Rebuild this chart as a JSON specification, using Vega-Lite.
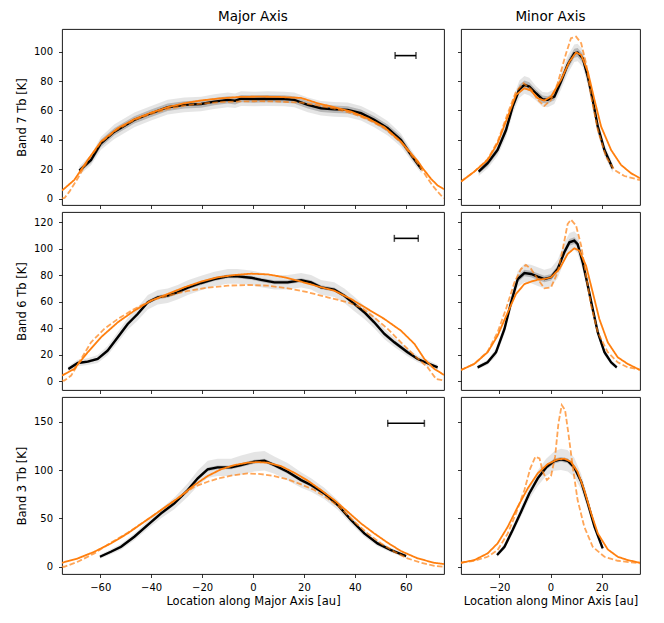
{
  "$schema": "https://vega.github.io/schema/vega-lite/v6.json",
  "background": "white",
  "padding": {"left": 15, "top": 9, "right": 5, "bottom": 5},
  "config": {
    "font": "DejaVu Sans",
    "view": {"stroke": "black", "strokeWidth": 0.9},
    "axis": {"grid": false, "domain": false, "tickColor": "black", "tickSize": 3.5, "tickWidth": 0.8, "labelColor": "black", "labelFontSize": 10, "labelOverlap": false, "titleFontSize": 11.5, "titleFontWeight": "normal", "titleColor": "black"},
    "axisX": {"labelPadding": 4.5, "titlePadding": 3},
    "axisY": {"labelPadding": 6, "titlePadding": 6},
    "title": {"fontSize": 13.5, "fontWeight": "normal", "color": "black", "frame": "group", "offset": 6}
  },
  "datasets": {
    "obs": [
      {"p":"a","x":-68.2,"t":19.1,"lo":16.1,"hi":22.1,"lo2":17.6,"hi2":20.6},
      {"p":"a","x":-63.6,"t":26.3,"lo":22.8,"hi":29.8,"lo2":24.3,"hi2":28.3},
      {"p":"a","x":-59.7,"t":37.7,"lo":33.2,"hi":42.2,"lo2":35.2,"hi2":40.2},
      {"p":"a","x":-54.4,"t":45.6,"lo":40.6,"hi":50.6,"lo2":43.1,"hi2":48.1},
      {"p":"a","x":-46.6,"t":53.6,"lo":48.6,"hi":58.6,"lo2":51.1,"hi2":56.1},
      {"p":"a","x":-40,"t":58.1,"lo":53.1,"hi":63.1,"lo2":55.6,"hi2":60.6},
      {"p":"a","x":-33.5,"t":62.2,"lo":57.2,"hi":67.2,"lo2":59.7,"hi2":64.7},
      {"p":"a","x":-27,"t":63.8,"lo":58.8,"hi":68.8,"lo2":61.3,"hi2":66.3},
      {"p":"a","x":-20.4,"t":64.4,"lo":59.4,"hi":69.4,"lo2":61.9,"hi2":66.9},
      {"p":"a","x":-15.2,"t":66,"lo":61,"hi":71,"lo2":63.5,"hi2":68.5},
      {"p":"a","x":-9.9,"t":67.2,"lo":62.2,"hi":72.2,"lo2":64.7,"hi2":69.7},
      {"p":"a","x":-7,"t":66.6,"lo":61.6,"hi":71.6,"lo2":64.1,"hi2":69.1},
      {"p":"a","x":-4.7,"t":68,"lo":63,"hi":73,"lo2":65.5,"hi2":70.5},
      {"p":"a","x":0.5,"t":67.8,"lo":62.8,"hi":72.8,"lo2":65.3,"hi2":70.3},
      {"p":"a","x":5.8,"t":68,"lo":63,"hi":73,"lo2":65.5,"hi2":70.5},
      {"p":"a","x":12.3,"t":67.8,"lo":62.8,"hi":72.8,"lo2":65.3,"hi2":70.3},
      {"p":"a","x":16.2,"t":67.2,"lo":62.2,"hi":72.2,"lo2":64.7,"hi2":69.7},
      {"p":"a","x":21.5,"t":63.8,"lo":58.8,"hi":68.8,"lo2":61.3,"hi2":66.3},
      {"p":"a","x":26.7,"t":61.5,"lo":56.5,"hi":66.5,"lo2":59,"hi2":64},
      {"p":"a","x":31.9,"t":60.8,"lo":55.8,"hi":65.8,"lo2":58.3,"hi2":63.3},
      {"p":"a","x":37.2,"t":60.4,"lo":55.4,"hi":65.4,"lo2":57.9,"hi2":62.9},
      {"p":"a","x":42.4,"t":58.1,"lo":53.1,"hi":63.1,"lo2":55.6,"hi2":60.6},
      {"p":"a","x":47.6,"t":53.6,"lo":48.6,"hi":58.6,"lo2":51.1,"hi2":56.1},
      {"p":"a","x":52.9,"t":47.9,"lo":42.9,"hi":52.9,"lo2":45.4,"hi2":50.4},
      {"p":"a","x":58.1,"t":39.9,"lo":35.4,"hi":44.4,"lo2":37.4,"hi2":42.4},
      {"p":"a","x":62.1,"t":29.7,"lo":26.2,"hi":33.2,"lo2":27.7,"hi2":31.7},
      {"p":"a","x":66.2,"t":20,"lo":17,"hi":23,"lo2":18.5,"hi2":21.5},

      {"p":"b","x":-28.1,"t":18.4,"lo":15.4,"hi":21.4,"lo2":16.9,"hi2":19.9},
      {"p":"b","x":-24.6,"t":24.1,"lo":20.6,"hi":27.6,"lo2":22.1,"hi2":26.1},
      {"p":"b","x":-20.7,"t":33.1,"lo":29.1,"hi":37.1,"lo2":31.1,"hi2":35.1},
      {"p":"b","x":-17.4,"t":46.7,"lo":41.7,"hi":51.7,"lo2":44.2,"hi2":49.2},
      {"p":"b","x":-14.8,"t":62.6,"lo":57.6,"hi":67.6,"lo2":60.1,"hi2":65.1},
      {"p":"b","x":-12.2,"t":74.4,"lo":68.4,"hi":80.4,"lo2":71.4,"hi2":77.4},
      {"p":"b","x":-10.2,"t":77.4,"lo":71.4,"hi":83.4,"lo2":74.4,"hi2":80.4},
      {"p":"b","x":-8.3,"t":76.2,"lo":70.2,"hi":82.2,"lo2":73.2,"hi2":79.2},
      {"p":"b","x":-5.7,"t":71.7,"lo":66.7,"hi":76.7,"lo2":69.2,"hi2":74.2},
      {"p":"b","x":-3.1,"t":67.6,"lo":62.6,"hi":72.6,"lo2":65.1,"hi2":70.1},
      {"p":"b","x":-1.1,"t":67.2,"lo":62.2,"hi":72.2,"lo2":64.7,"hi2":69.7},
      {"p":"b","x":1.5,"t":69.4,"lo":64.4,"hi":74.4,"lo2":66.9,"hi2":71.9},
      {"p":"b","x":4.1,"t":79.6,"lo":74.1,"hi":85.1,"lo2":76.6,"hi2":82.6},
      {"p":"b","x":6.7,"t":91,"lo":85,"hi":97,"lo2":88,"hi2":94},
      {"p":"b","x":9.3,"t":98.9,"lo":92.9,"hi":104.9,"lo2":95.9,"hi2":101.9},
      {"p":"b","x":10.6,"t":99.4,"lo":93.4,"hi":105.4,"lo2":96.4,"hi2":102.4},
      {"p":"b","x":12.6,"t":95.5,"lo":89.5,"hi":101.5,"lo2":92.5,"hi2":98.5},
      {"p":"b","x":14.6,"t":83,"lo":77,"hi":89,"lo2":80,"hi2":86},
      {"p":"b","x":16.5,"t":67.2,"lo":62.2,"hi":72.2,"lo2":64.7,"hi2":69.7},
      {"p":"b","x":18.5,"t":49,"lo":44,"hi":54,"lo2":46.5,"hi2":51.5},
      {"p":"b","x":21.1,"t":33.1,"lo":29.1,"hi":37.1,"lo2":31.1,"hi2":35.1},
      {"p":"b","x":24.3,"t":20.7,"lo":17.7,"hi":23.7,"lo2":19.2,"hi2":22.2},

      {"p":"c","x":-72.5,"t":9.3,"lo":7.3,"hi":11.3,"lo2":8.3,"hi2":10.3},
      {"p":"c","x":-68.8,"t":13.8,"lo":11.3,"hi":16.3,"lo2":12.8,"hi2":14.8},
      {"p":"c","x":-64.9,"t":14.8,"lo":12.3,"hi":17.3,"lo2":13.8,"hi2":15.8},
      {"p":"c","x":-61,"t":16.8,"lo":13.8,"hi":19.8,"lo2":15.8,"hi2":17.8},
      {"p":"c","x":-57.1,"t":23.1,"lo":19.6,"hi":26.6,"lo2":21.6,"hi2":24.6},
      {"p":"c","x":-53.1,"t":33.2,"lo":29.2,"hi":37.2,"lo2":31.7,"hi2":34.7},
      {"p":"c","x":-49.2,"t":43.3,"lo":38.8,"hi":47.8,"lo2":41.8,"hi2":44.8},
      {"p":"c","x":-45.3,"t":50.8,"lo":45.8,"hi":55.8,"lo2":49.3,"hi2":52.3},
      {"p":"c","x":-41.3,"t":59.6,"lo":54.1,"hi":65.1,"lo2":58.1,"hi2":61.1},
      {"p":"c","x":-37.4,"t":63.4,"lo":57.9,"hi":68.9,"lo2":61.9,"hi2":64.9},
      {"p":"c","x":-33.5,"t":64.6,"lo":59.1,"hi":70.1,"lo2":63.1,"hi2":66.1},
      {"p":"c","x":-29.6,"t":67.2,"lo":61.7,"hi":72.7,"lo2":65.7,"hi2":68.7},
      {"p":"c","x":-25.6,"t":70.7,"lo":65.2,"hi":76.2,"lo2":69.2,"hi2":72.2},
      {"p":"c","x":-20.4,"t":74.2,"lo":68.7,"hi":79.7,"lo2":72.7,"hi2":75.7},
      {"p":"c","x":-15.2,"t":77.2,"lo":71.7,"hi":82.7,"lo2":75.7,"hi2":78.7},
      {"p":"c","x":-9.9,"t":79.2,"lo":73.7,"hi":84.7,"lo2":77.7,"hi2":80.7},
      {"p":"c","x":-6,"t":79.2,"lo":73.7,"hi":84.7,"lo2":77.7,"hi2":80.7},
      {"p":"c","x":-0.8,"t":78.2,"lo":72.7,"hi":83.7,"lo2":76.7,"hi2":79.7},
      {"p":"c","x":3.2,"t":76.5,"lo":71,"hi":82,"lo2":75,"hi2":78},
      {"p":"c","x":8.4,"t":74.7,"lo":69.2,"hi":80.2,"lo2":73.2,"hi2":76.2},
      {"p":"c","x":13.6,"t":74.7,"lo":69.2,"hi":80.2,"lo2":73.2,"hi2":76.2},
      {"p":"c","x":18.9,"t":76.2,"lo":70.7,"hi":81.7,"lo2":74.7,"hi2":77.7},
      {"p":"c","x":22.8,"t":74.7,"lo":69.2,"hi":80.2,"lo2":73.2,"hi2":76.2},
      {"p":"c","x":26.7,"t":70.9,"lo":65.4,"hi":76.4,"lo2":69.4,"hi2":72.4},
      {"p":"c","x":31.9,"t":69.2,"lo":63.7,"hi":74.7,"lo2":67.7,"hi2":70.7},
      {"p":"c","x":35.9,"t":64.6,"lo":59.1,"hi":70.1,"lo2":63.1,"hi2":66.1},
      {"p":"c","x":39.8,"t":58.4,"lo":52.9,"hi":63.9,"lo2":56.9,"hi2":59.9},
      {"p":"c","x":43.7,"t":52.1,"lo":47.1,"hi":57.1,"lo2":50.6,"hi2":53.6},
      {"p":"c","x":47.6,"t":44.5,"lo":40,"hi":49,"lo2":43,"hi2":46},
      {"p":"c","x":51.6,"t":35.7,"lo":31.7,"hi":39.7,"lo2":34.2,"hi2":37.2},
      {"p":"c","x":55.5,"t":29.4,"lo":25.9,"hi":32.9,"lo2":27.9,"hi2":30.9},
      {"p":"c","x":60.7,"t":21.9,"lo":18.9,"hi":24.9,"lo2":20.4,"hi2":23.4},
      {"p":"c","x":64.7,"t":16.8,"lo":14.3,"hi":19.3,"lo2":15.8,"hi2":17.8},
      {"p":"c","x":68.6,"t":13.6,"lo":11.1,"hi":16.1,"lo2":12.6,"hi2":14.6},
      {"p":"c","x":72.5,"t":10.5,"lo":8.5,"hi":12.5,"lo2":9.5,"hi2":11.5},

      {"p":"d","x":-28.5,"t":10.5,"lo":9,"hi":12,"lo2":9.5,"hi2":11.5},
      {"p":"d","x":-24.6,"t":14.3,"lo":12.3,"hi":16.3,"lo2":13.3,"hi2":15.3},
      {"p":"d","x":-21.3,"t":21.9,"lo":18.9,"hi":24.9,"lo2":20.4,"hi2":23.4},
      {"p":"d","x":-18,"t":39.5,"lo":35.5,"hi":43.5,"lo2":37.5,"hi2":41.5},
      {"p":"d","x":-15.4,"t":59.6,"lo":54.6,"hi":64.6,"lo2":57.6,"hi2":61.6},
      {"p":"d","x":-12.8,"t":77.2,"lo":71.2,"hi":83.2,"lo2":74.7,"hi2":79.7},
      {"p":"d","x":-10.2,"t":81.7,"lo":74.7,"hi":88.7,"lo2":79.2,"hi2":84.2},
      {"p":"d","x":-7.6,"t":81,"lo":74,"hi":88,"lo2":78.5,"hi2":83.5},
      {"p":"d","x":-5,"t":79,"lo":72,"hi":86,"lo2":76.5,"hi2":81.5},
      {"p":"d","x":-2.4,"t":77.2,"lo":70.2,"hi":84.2,"lo2":74.7,"hi2":79.7},
      {"p":"d","x":0.2,"t":78.5,"lo":71.5,"hi":85.5,"lo2":76,"hi2":81},
      {"p":"d","x":2.8,"t":84.8,"lo":77.8,"hi":91.8,"lo2":82.3,"hi2":87.3},
      {"p":"d","x":5.4,"t":97.4,"lo":90.4,"hi":104.4,"lo2":94.9,"hi2":99.9},
      {"p":"d","x":7.4,"t":104.9,"lo":97.9,"hi":111.9,"lo2":102.4,"hi2":107.4},
      {"p":"d","x":9.3,"t":106.2,"lo":99.2,"hi":113.2,"lo2":103.7,"hi2":108.7},
      {"p":"d","x":10.6,"t":103.6,"lo":96.6,"hi":110.6,"lo2":101.1,"hi2":106.1},
      {"p":"d","x":12.6,"t":89.8,"lo":83.8,"hi":95.8,"lo2":87.3,"hi2":92.3},
      {"p":"d","x":14.6,"t":72.2,"lo":67.2,"hi":77.2,"lo2":70.2,"hi2":74.2},
      {"p":"d","x":16.5,"t":54.6,"lo":50.6,"hi":58.6,"lo2":52.6,"hi2":56.6},
      {"p":"d","x":18.5,"t":36.9,"lo":33.9,"hi":39.9,"lo2":35.4,"hi2":38.4},
      {"p":"d","x":21.1,"t":21.9,"lo":19.4,"hi":24.4,"lo2":20.4,"hi2":23.4},
      {"p":"d","x":23.7,"t":14.3,"lo":12.3,"hi":16.3,"lo2":13.3,"hi2":15.3},
      {"p":"d","x":25.9,"t":10.5,"lo":9,"hi":12,"lo2":9.5,"hi2":11.5},

      {"p":"e","x":-60.1,"t":10.3,"lo":8.3,"hi":12.3,"lo2":9.3,"hi2":11.3},
      {"p":"e","x":-55.8,"t":15.5,"lo":13,"hi":18,"lo2":14.5,"hi2":16.5},
      {"p":"e","x":-51.8,"t":20.7,"lo":17.7,"hi":23.7,"lo2":19.2,"hi2":22.2},
      {"p":"e","x":-46.6,"t":31,"lo":27.5,"hi":34.5,"lo2":29.5,"hi2":32.5},
      {"p":"e","x":-41.4,"t":43.1,"lo":39.1,"hi":47.1,"lo2":41.6,"hi2":44.6},
      {"p":"e","x":-36.1,"t":55.2,"lo":50.2,"hi":60.2,"lo2":53.2,"hi2":57.2},
      {"p":"e","x":-30.9,"t":65.5,"lo":59.5,"hi":71.5,"lo2":63.5,"hi2":67.5},
      {"p":"e","x":-25.6,"t":79.3,"lo":72.3,"hi":86.3,"lo2":77.3,"hi2":81.3},
      {"p":"e","x":-21.7,"t":91.4,"lo":83.4,"hi":99.4,"lo2":89.4,"hi2":93.4},
      {"p":"e","x":-17.8,"t":100.7,"lo":91.7,"hi":109.7,"lo2":98.7,"hi2":102.7},
      {"p":"e","x":-13.9,"t":102.7,"lo":93.7,"hi":111.7,"lo2":100.7,"hi2":104.7},
      {"p":"e","x":-8.6,"t":102.7,"lo":93.7,"hi":111.7,"lo2":100.7,"hi2":104.7},
      {"p":"e","x":-4.7,"t":105.1,"lo":95.1,"hi":115.1,"lo2":103.1,"hi2":107.1},
      {"p":"e","x":0.5,"t":108.6,"lo":98.6,"hi":118.6,"lo2":106.6,"hi2":110.6},
      {"p":"e","x":4.5,"t":109.6,"lo":99.6,"hi":119.6,"lo2":107.6,"hi2":111.6},
      {"p":"e","x":8.4,"t":105.1,"lo":96.1,"hi":114.1,"lo2":103.1,"hi2":107.1},
      {"p":"e","x":13.6,"t":98.2,"lo":89.2,"hi":107.2,"lo2":96.2,"hi2":100.2},
      {"p":"e","x":18.9,"t":89.6,"lo":81.6,"hi":97.6,"lo2":87.6,"hi2":91.6},
      {"p":"e","x":22.8,"t":84.5,"lo":77.5,"hi":91.5,"lo2":82.5,"hi2":86.5},
      {"p":"e","x":28,"t":75.8,"lo":69.8,"hi":81.8,"lo2":73.8,"hi2":77.8},
      {"p":"e","x":33.3,"t":63.8,"lo":58.8,"hi":68.8,"lo2":61.8,"hi2":65.8},
      {"p":"e","x":38.5,"t":48.3,"lo":44.3,"hi":52.3,"lo2":46.8,"hi2":49.8},
      {"p":"e","x":43.7,"t":34.5,"lo":31,"hi":38,"lo2":33,"hi2":36},
      {"p":"e","x":48.9,"t":24.1,"lo":21.1,"hi":27.1,"lo2":22.6,"hi2":25.6},
      {"p":"e","x":54.2,"t":17.2,"lo":14.7,"hi":19.7,"lo2":16.2,"hi2":18.2},
      {"p":"e","x":60.1,"t":11,"lo":9,"hi":13,"lo2":10,"hi2":12},

      {"p":"f","x":-20.9,"t":12.1,"lo":10.1,"hi":14.1,"lo2":11.1,"hi2":13.1},
      {"p":"f","x":-18,"t":20.7,"lo":17.7,"hi":23.7,"lo2":19.2,"hi2":22.2},
      {"p":"f","x":-14.8,"t":37.9,"lo":33.9,"hi":41.9,"lo2":35.9,"hi2":39.9},
      {"p":"f","x":-11.5,"t":56.9,"lo":51.9,"hi":61.9,"lo2":54.9,"hi2":58.9},
      {"p":"f","x":-8.3,"t":75.8,"lo":69.8,"hi":81.8,"lo2":73.8,"hi2":77.8},
      {"p":"f","x":-5,"t":91.4,"lo":83.4,"hi":99.4,"lo2":88.9,"hi2":93.9},
      {"p":"f","x":-1.7,"t":102.7,"lo":93.7,"hi":111.7,"lo2":100.2,"hi2":105.2},
      {"p":"f","x":1.5,"t":109.3,"lo":99.3,"hi":119.3,"lo2":106.8,"hi2":111.8},
      {"p":"f","x":4.1,"t":111,"lo":100,"hi":122,"lo2":108.5,"hi2":113.5},
      {"p":"f","x":6.7,"t":109.6,"lo":98.6,"hi":120.6,"lo2":107.1,"hi2":112.1},
      {"p":"f","x":9.3,"t":102.7,"lo":92.7,"hi":112.7,"lo2":100.2,"hi2":105.2},
      {"p":"f","x":12,"t":87.9,"lo":79.9,"hi":95.9,"lo2":85.9,"hi2":89.9},
      {"p":"f","x":14.6,"t":65.5,"lo":59.5,"hi":71.5,"lo2":63.5,"hi2":67.5},
      {"p":"f","x":17.2,"t":41.4,"lo":37.4,"hi":45.4,"lo2":39.9,"hi2":42.9},
      {"p":"f","x":20.4,"t":19,"lo":16.5,"hi":21.5,"lo2":18,"hi2":20}
    ],
    "mod": [
      {"p":"a","k":"s","x":-75,"t":5.5},{"p":"a","k":"s","x":-70.2,"t":12.7},{"p":"a","k":"s","x":-64.9,"t":26.3},{"p":"a","k":"s","x":-59.7,"t":38.8},{"p":"a","k":"s","x":-53.1,"t":47.9},{"p":"a","k":"s","x":-46.6,"t":54},{"p":"a","k":"s","x":-40,"t":58.5},{"p":"a","k":"s","x":-33.5,"t":62.2},{"p":"a","k":"s","x":-27,"t":64.9},{"p":"a","k":"s","x":-20.4,"t":66.8},{"p":"a","k":"s","x":-13,"t":68.2},{"p":"a","k":"s","x":-5,"t":69.2},{"p":"a","k":"s","x":3,"t":69.4},{"p":"a","k":"s","x":10,"t":69.2},{"p":"a","k":"s","x":18.9,"t":68.5},{"p":"a","k":"s","x":25.4,"t":64.9},{"p":"a","k":"s","x":31.9,"t":62.2},{"p":"a","k":"s","x":38.5,"t":59.2},{"p":"a","k":"s","x":45,"t":54.7},{"p":"a","k":"s","x":51.6,"t":48.6},{"p":"a","k":"s","x":58.1,"t":38.8},{"p":"a","k":"s","x":64.7,"t":25.5},{"p":"a","k":"s","x":66.5,"t":21},{"p":"a","k":"s","x":69.9,"t":13.5},{"p":"a","k":"s","x":72.5,"t":9},{"p":"a","k":"s","x":75,"t":6.4},
      {"p":"a","k":"d","x":-75,"t":0.2},{"p":"a","k":"d","x":-74,"t":0.5},{"p":"a","k":"d","x":-72.1,"t":4.8},{"p":"a","k":"d","x":-68.8,"t":13.9},{"p":"a","k":"d","x":-64.9,"t":25.8},{"p":"a","k":"d","x":-59.7,"t":38.3},{"p":"a","k":"d","x":-53.1,"t":47.3},{"p":"a","k":"d","x":-46.6,"t":53.4},{"p":"a","k":"d","x":-40,"t":57.7},{"p":"a","k":"d","x":-33.5,"t":61},{"p":"a","k":"d","x":-27,"t":63.3},{"p":"a","k":"d","x":-20.4,"t":64.6},{"p":"a","k":"d","x":-13,"t":65.6},{"p":"a","k":"d","x":-5,"t":66.2},{"p":"a","k":"d","x":3,"t":66.3},{"p":"a","k":"d","x":10,"t":66.1},{"p":"a","k":"d","x":18.9,"t":65.3},{"p":"a","k":"d","x":25.4,"t":63.5},{"p":"a","k":"d","x":31.9,"t":61.2},{"p":"a","k":"d","x":38.5,"t":58.3},{"p":"a","k":"d","x":45,"t":54},{"p":"a","k":"d","x":51.6,"t":48},{"p":"a","k":"d","x":58.1,"t":38.3},{"p":"a","k":"d","x":64.7,"t":24},{"p":"a","k":"d","x":68.5,"t":14},{"p":"a","k":"d","x":70.5,"t":9},{"p":"a","k":"d","x":72.5,"t":4.8},{"p":"a","k":"d","x":74.5,"t":0.9},{"p":"a","k":"d","x":75,"t":0.3},

      {"p":"b","k":"s","x":-35,"t":11.6},{"p":"b","k":"s","x":-29.8,"t":18.4},{"p":"b","k":"s","x":-24.6,"t":26.3},{"p":"b","k":"s","x":-20.7,"t":37.7},{"p":"b","k":"s","x":-16.7,"t":55.8},{"p":"b","k":"s","x":-13.5,"t":70.6},{"p":"b","k":"s","x":-10.2,"t":75.1},{"p":"b","k":"s","x":-7.6,"t":73.5},{"p":"b","k":"s","x":-5,"t":68.3},{"p":"b","k":"s","x":-2.4,"t":66.7},{"p":"b","k":"s","x":0.2,"t":69.4},{"p":"b","k":"s","x":4.1,"t":80.8},{"p":"b","k":"s","x":7.4,"t":93.2},{"p":"b","k":"s","x":10,"t":99.4},{"p":"b","k":"s","x":12,"t":97.8},{"p":"b","k":"s","x":14.6,"t":86.4},{"p":"b","k":"s","x":17.2,"t":67.2},{"p":"b","k":"s","x":19.8,"t":49},{"p":"b","k":"s","x":23.7,"t":33.1},{"p":"b","k":"s","x":27.6,"t":22.9},{"p":"b","k":"s","x":31.5,"t":17.3},{"p":"b","k":"s","x":35,"t":13.9},
      {"p":"b","k":"d","x":-35,"t":11.6},{"p":"b","k":"d","x":-29.8,"t":18.4},{"p":"b","k":"d","x":-24.6,"t":26.8},{"p":"b","k":"d","x":-20.7,"t":38.8},{"p":"b","k":"d","x":-16.7,"t":58.1},{"p":"b","k":"d","x":-13.5,"t":72.8},{"p":"b","k":"d","x":-10.5,"t":78.5},{"p":"b","k":"d","x":-7.6,"t":74.4},{"p":"b","k":"d","x":-5,"t":67.2},{"p":"b","k":"d","x":-2.4,"t":63.1},{"p":"b","k":"d","x":0.2,"t":67.2},{"p":"b","k":"d","x":2.8,"t":78.5},{"p":"b","k":"d","x":6.1,"t":98.9},{"p":"b","k":"d","x":8,"t":109.1},{"p":"b","k":"d","x":10,"t":110.2},{"p":"b","k":"d","x":12,"t":105.7},{"p":"b","k":"d","x":13.9,"t":92.1},{"p":"b","k":"d","x":15.9,"t":69.4},{"p":"b","k":"d","x":18.5,"t":46.8},{"p":"b","k":"d","x":21.7,"t":28.6},{"p":"b","k":"d","x":25,"t":19.5},{"p":"b","k":"d","x":28.9,"t":15.4},{"p":"b","k":"d","x":35,"t":12.7},

      {"p":"c","k":"s","x":-75,"t":4.3},{"p":"c","k":"s","x":-70.2,"t":9.3},{"p":"c","k":"s","x":-64.9,"t":21.9},{"p":"c","k":"s","x":-59.7,"t":33.2},{"p":"c","k":"s","x":-53.1,"t":44.5},{"p":"c","k":"s","x":-46.6,"t":53.3},{"p":"c","k":"s","x":-40,"t":60.9},{"p":"c","k":"s","x":-33.5,"t":65.9},{"p":"c","k":"s","x":-27,"t":70.9},{"p":"c","k":"s","x":-20.4,"t":75.2},{"p":"c","k":"s","x":-13.9,"t":78.5},{"p":"c","k":"s","x":-7.3,"t":80.2},{"p":"c","k":"s","x":-0.8,"t":81.2},{"p":"c","k":"s","x":5.8,"t":80.7},{"p":"c","k":"s","x":12.3,"t":78.5},{"p":"c","k":"s","x":18.9,"t":75.2},{"p":"c","k":"s","x":25.4,"t":71.7},{"p":"c","k":"s","x":31.9,"t":68.4},{"p":"c","k":"s","x":38.5,"t":62.1},{"p":"c","k":"s","x":45,"t":54.6},{"p":"c","k":"s","x":51.6,"t":47},{"p":"c","k":"s","x":58.1,"t":38.2},{"p":"c","k":"s","x":63.4,"t":28.2},{"p":"c","k":"s","x":67.3,"t":16.8},{"p":"c","k":"s","x":71.2,"t":9.3},{"p":"c","k":"s","x":75,"t":4.8},
      {"p":"c","k":"d","x":-75,"t":0.5},{"p":"c","k":"d","x":-74.1,"t":0.5},{"p":"c","k":"d","x":-71.4,"t":4.3},{"p":"c","k":"d","x":-67.5,"t":16.8},{"p":"c","k":"d","x":-63.6,"t":29.4},{"p":"c","k":"d","x":-58.4,"t":39.5},{"p":"c","k":"d","x":-53.1,"t":47},{"p":"c","k":"d","x":-46.6,"t":54.6},{"p":"c","k":"d","x":-40,"t":60.9},{"p":"c","k":"d","x":-33.5,"t":64.6},{"p":"c","k":"d","x":-25.6,"t":68.2},{"p":"c","k":"d","x":-17.8,"t":70.7},{"p":"c","k":"d","x":-9.9,"t":72.2},{"p":"c","k":"d","x":-2.1,"t":72.7},{"p":"c","k":"d","x":5.8,"t":72.2},{"p":"c","k":"d","x":13.6,"t":70.2},{"p":"c","k":"d","x":21.5,"t":67.2},{"p":"c","k":"d","x":29.3,"t":63.4},{"p":"c","k":"d","x":37.2,"t":59.6},{"p":"c","k":"d","x":42.4,"t":55.8},{"p":"c","k":"d","x":47.6,"t":48.3},{"p":"c","k":"d","x":52.9,"t":39.5},{"p":"c","k":"d","x":58.1,"t":29.4},{"p":"c","k":"d","x":63.4,"t":19.4},{"p":"c","k":"d","x":68.6,"t":10.5},{"p":"c","k":"d","x":71.9,"t":1.7},{"p":"c","k":"d","x":75,"t":0.5},

      {"p":"d","k":"s","x":-35,"t":8.5},{"p":"d","k":"s","x":-29.8,"t":13.1},{"p":"d","k":"s","x":-24.6,"t":21.9},{"p":"d","k":"s","x":-20.7,"t":34.4},{"p":"d","k":"s","x":-16.7,"t":52.1},{"p":"d","k":"s","x":-13.5,"t":65.9},{"p":"d","k":"s","x":-10.2,"t":73.4},{"p":"d","k":"s","x":-7.6,"t":75.2},{"p":"d","k":"s","x":-5,"t":76.7},{"p":"d","k":"s","x":-2.4,"t":77.2},{"p":"d","k":"s","x":0.2,"t":78.5},{"p":"d","k":"s","x":3.5,"t":84.8},{"p":"d","k":"s","x":6.7,"t":96.1},{"p":"d","k":"s","x":9.3,"t":100.4},{"p":"d","k":"s","x":11.3,"t":98.6},{"p":"d","k":"s","x":13.9,"t":87.3},{"p":"d","k":"s","x":16.5,"t":67.2},{"p":"d","k":"s","x":19.1,"t":47},{"p":"d","k":"s","x":22.4,"t":29.4},{"p":"d","k":"s","x":26.3,"t":18.1},{"p":"d","k":"s","x":30.2,"t":13.1},{"p":"d","k":"s","x":35,"t":8.5},
      {"p":"d","k":"d","x":-35,"t":8.5},{"p":"d","k":"d","x":-29.8,"t":13.1},{"p":"d","k":"d","x":-24.6,"t":22.4},{"p":"d","k":"d","x":-20.7,"t":36.9},{"p":"d","k":"d","x":-17.4,"t":54.6},{"p":"d","k":"d","x":-14.1,"t":74.7},{"p":"d","k":"d","x":-11.5,"t":84.8},{"p":"d","k":"d","x":-9.6,"t":87.8},{"p":"d","k":"d","x":-7.6,"t":84.8},{"p":"d","k":"d","x":-5,"t":77.2},{"p":"d","k":"d","x":-2.4,"t":70.2},{"p":"d","k":"d","x":0.2,"t":70.9},{"p":"d","k":"d","x":2.8,"t":82.2},{"p":"d","k":"d","x":4.8,"t":99.9},{"p":"d","k":"d","x":6.7,"t":118.7},{"p":"d","k":"d","x":8,"t":122},{"p":"d","k":"d","x":10,"t":117.5},{"p":"d","k":"d","x":12,"t":102.4},{"p":"d","k":"d","x":13.9,"t":79.7},{"p":"d","k":"d","x":15.9,"t":57.1},{"p":"d","k":"d","x":18.5,"t":36.9},{"p":"d","k":"d","x":22.4,"t":21.9},{"p":"d","k":"d","x":26.3,"t":14.3},{"p":"d","k":"d","x":30.2,"t":10.5},{"p":"d","k":"d","x":35,"t":8.8},

      {"p":"e","k":"s","x":-75,"t":4.1},{"p":"e","k":"s","x":-68.8,"t":8.6},{"p":"e","k":"s","x":-62.3,"t":15.5},{"p":"e","k":"s","x":-55.8,"t":24.1},{"p":"e","k":"s","x":-49.2,"t":34.5},{"p":"e","k":"s","x":-42.7,"t":46.5},{"p":"e","k":"s","x":-36.1,"t":58.6},{"p":"e","k":"s","x":-29.6,"t":70.7},{"p":"e","k":"s","x":-23,"t":84.5},{"p":"e","k":"s","x":-17.8,"t":93.8},{"p":"e","k":"s","x":-12.6,"t":100.7},{"p":"e","k":"s","x":-7.3,"t":105.1},{"p":"e","k":"s","x":-2.1,"t":107.6},{"p":"e","k":"s","x":1.8,"t":108.2},{"p":"e","k":"s","x":5.8,"t":107.6},{"p":"e","k":"s","x":11,"t":104.1},{"p":"e","k":"s","x":16.2,"t":97.2},{"p":"e","k":"s","x":21.5,"t":89},{"p":"e","k":"s","x":26.7,"t":79.3},{"p":"e","k":"s","x":31.9,"t":69},{"p":"e","k":"s","x":37.2,"t":56.9},{"p":"e","k":"s","x":42.4,"t":44.8},{"p":"e","k":"s","x":47.6,"t":34.5},{"p":"e","k":"s","x":52.9,"t":24.8},{"p":"e","k":"s","x":58.1,"t":16.2},{"p":"e","k":"s","x":64.7,"t":8.6},{"p":"e","k":"s","x":71.2,"t":4.1},{"p":"e","k":"s","x":75,"t":2.8},
      {"p":"e","k":"d","x":-75,"t":0},{"p":"e","k":"d","x":-74.1,"t":0},{"p":"e","k":"d","x":-68.8,"t":5.2},{"p":"e","k":"d","x":-62.3,"t":13.8},{"p":"e","k":"d","x":-55.8,"t":24.8},{"p":"e","k":"d","x":-49.2,"t":35.2},{"p":"e","k":"d","x":-42.7,"t":46.5},{"p":"e","k":"d","x":-36.1,"t":58.6},{"p":"e","k":"d","x":-29.6,"t":70.7},{"p":"e","k":"d","x":-23,"t":82.7},{"p":"e","k":"d","x":-17.8,"t":87.9},{"p":"e","k":"d","x":-12.6,"t":92},{"p":"e","k":"d","x":-7.3,"t":94.8},{"p":"e","k":"d","x":-2.1,"t":96.5},{"p":"e","k":"d","x":3.1,"t":95.8},{"p":"e","k":"d","x":8.4,"t":93.8},{"p":"e","k":"d","x":13.6,"t":90.3},{"p":"e","k":"d","x":18.9,"t":85.2},{"p":"e","k":"d","x":24.1,"t":79.3},{"p":"e","k":"d","x":29.3,"t":70.7},{"p":"e","k":"d","x":34.6,"t":60.3},{"p":"e","k":"d","x":39.8,"t":46.5},{"p":"e","k":"d","x":45,"t":34.5},{"p":"e","k":"d","x":50.3,"t":24.1},{"p":"e","k":"d","x":55.5,"t":15.5},{"p":"e","k":"d","x":60.7,"t":8.6},{"p":"e","k":"d","x":66,"t":4.1},{"p":"e","k":"d","x":71.2,"t":1},{"p":"e","k":"d","x":75,"t":0},

      {"p":"f","k":"s","x":-35,"t":4.1},{"p":"f","k":"s","x":-29.8,"t":6.9},{"p":"f","k":"s","x":-24.6,"t":13.8},{"p":"f","k":"s","x":-20.7,"t":24.1},{"p":"f","k":"s","x":-16.7,"t":41.4},{"p":"f","k":"s","x":-12.8,"t":62},{"p":"f","k":"s","x":-8.9,"t":81},{"p":"f","k":"s","x":-5,"t":96.5},{"p":"f","k":"s","x":-1.1,"t":106.2},{"p":"f","k":"s","x":2.8,"t":111},{"p":"f","k":"s","x":5.4,"t":111.7},{"p":"f","k":"s","x":8,"t":108.6},{"p":"f","k":"s","x":10.6,"t":98.2},{"p":"f","k":"s","x":13.2,"t":79.3},{"p":"f","k":"s","x":15.9,"t":55.2},{"p":"f","k":"s","x":18.5,"t":34.5},{"p":"f","k":"s","x":22.4,"t":17.9},{"p":"f","k":"s","x":26.3,"t":10.3},{"p":"f","k":"s","x":30.2,"t":6.9},{"p":"f","k":"s","x":35,"t":4.1},
      {"p":"f","k":"d","x":-35,"t":4.1},{"p":"f","k":"d","x":-29.8,"t":6.2},{"p":"f","k":"d","x":-24.6,"t":10.3},{"p":"f","k":"d","x":-20.7,"t":17.2},{"p":"f","k":"d","x":-16.7,"t":34.5},{"p":"f","k":"d","x":-13.5,"t":55.2},{"p":"f","k":"d","x":-10.2,"t":79.3},{"p":"f","k":"d","x":-7.9,"t":101.7},{"p":"f","k":"d","x":-5.9,"t":113.8},{"p":"f","k":"d","x":-4.3,"t":112},{"p":"f","k":"d","x":-3,"t":98.2},{"p":"f","k":"d","x":-1.4,"t":89.6},{"p":"f","k":"d","x":0.2,"t":93.8},{"p":"f","k":"d","x":1.8,"t":113.8},{"p":"f","k":"d","x":3.1,"t":148.2},{"p":"f","k":"d","x":4.4,"t":167.2},{"p":"f","k":"d","x":5.7,"t":162},{"p":"f","k":"d","x":7,"t":137.9},{"p":"f","k":"d","x":8.7,"t":103.4},{"p":"f","k":"d","x":10.6,"t":69},{"p":"f","k":"d","x":13.2,"t":41.4},{"p":"f","k":"d","x":16.5,"t":20.7},{"p":"f","k":"d","x":21.1,"t":10.3},{"p":"f","k":"d","x":26.3,"t":6.2},{"p":"f","k":"d","x":35,"t":3.5}
    ],
    "beam": [
      {"p":"a","x1":55.8,"x2":64,"y":97.3},
      {"p":"c","x1":55.5,"x2":64.9,"y":107.9},
      {"p":"e","x1":52.9,"x2":67.3,"y":148.3}
    ]
  },
  "columns": 2,
  "bounds": "flush",
  "spacing": {"row": 7, "column": 17},
  "concat": [
    {
      "width": 382, "height": 176, "title": "Major Axis",
      "encoding": {"x": {"field": "x", "type": "quantitative", "scale": {"domain": [-75, 75], "nice": false, "zero": false}, "axis": {"values": [-60,-40,-20,0,20,40,60], "tickCount": 20, "labels": false, "title": null}}},
      "layer": [
        {"data": {"name": "obs"}, "transform": [{"filter": "datum.p == 'a'"}], "mark": {"type": "area", "color": "black", "opacity": 0.1, "clip": true},
         "encoding": {"y": {"field": "lo", "type": "quantitative", "scale": {"domain": [-4.3, 115.4], "nice": false, "zero": false}, "axis": {"values": [0,20,40,60,80,100], "tickCount": 20, "title": "Band 7 Tb [K]"}}, "y2": {"field": "hi"}}},
        {"data": {"name": "obs"}, "transform": [{"filter": "datum.p == 'a'"}], "mark": {"type": "area", "color": "black", "opacity": 0.2, "clip": true}, "encoding": {"y": {"field": "lo2", "type": "quantitative"}, "y2": {"field": "hi2"}}},
        {"data": {"name": "obs"}, "transform": [{"filter": "datum.p == 'a'"}], "mark": {"type": "line", "color": "black", "strokeWidth": 2.4, "clip": true}, "encoding": {"y": {"field": "t", "type": "quantitative"}}},
        {"data": {"name": "mod"}, "transform": [{"filter": "datum.p == 'a'"}], "mark": {"type": "line", "color": "#ff7f0e", "strokeWidth": 1.8, "clip": true},
         "encoding": {"y": {"field": "t", "type": "quantitative"}, "strokeDash": {"field": "k", "type": "nominal", "scale": {"domain": ["s","d"], "range": [[1,0],[5.5,2.4]]}, "legend": null}, "opacity": {"field": "k", "type": "nominal", "scale": {"domain": ["s","d"], "range": [1,0.7]}, "legend": null}}},
        {"data": {"values": [{}]}, "mark": {"type": "text", "align": "left", "baseline": "middle", "fontSize": 11, "color": "black"}, "encoding": {"x": {"datum": -67.5}, "y": {"datum": 106}, "text": {"value": "(a)"}}},
        {"data": {"name": "beam"}, "transform": [{"filter": "datum.p == 'a'"}], "mark": {"type": "rule", "color": "black", "strokeWidth": 1.6}, "encoding": {"x": {"field": "x1", "type": "quantitative"}, "x2": {"field": "x2"}, "y": {"field": "y", "type": "quantitative"}}},
        {"data": {"name": "beam"}, "transform": [{"filter": "datum.p == 'a'"}], "mark": {"type": "tick", "orient": "vertical", "color": "black", "size": 7, "thickness": 1.5}, "encoding": {"x": {"field": "x1", "type": "quantitative"}, "y": {"field": "y", "type": "quantitative"}}},
        {"data": {"name": "beam"}, "transform": [{"filter": "datum.p == 'a'"}], "mark": {"type": "tick", "orient": "vertical", "color": "black", "size": 7, "thickness": 1.5}, "encoding": {"x": {"field": "x2", "type": "quantitative"}, "y": {"field": "y", "type": "quantitative"}}}
      ]
    },
    {
      "width": 179, "height": 176, "title": "Minor Axis",
      "encoding": {"x": {"field": "x", "type": "quantitative", "scale": {"domain": [-35, 35], "nice": false, "zero": false}, "axis": {"values": [-20,0,20], "tickCount": 20, "labels": false, "title": null}}},
      "layer": [
        {"data": {"name": "obs"}, "transform": [{"filter": "datum.p == 'b'"}], "mark": {"type": "area", "color": "black", "opacity": 0.1, "clip": true},
         "encoding": {"y": {"field": "lo", "type": "quantitative", "scale": {"domain": [-4.3, 115.4], "nice": false, "zero": false}, "axis": {"values": [0,20,40,60,80,100], "tickCount": 20, "labels": false, "title": null}}, "y2": {"field": "hi"}}},
        {"data": {"name": "obs"}, "transform": [{"filter": "datum.p == 'b'"}], "mark": {"type": "area", "color": "black", "opacity": 0.2, "clip": true}, "encoding": {"y": {"field": "lo2", "type": "quantitative"}, "y2": {"field": "hi2"}}},
        {"data": {"name": "obs"}, "transform": [{"filter": "datum.p == 'b'"}], "mark": {"type": "line", "color": "black", "strokeWidth": 2.4, "clip": true}, "encoding": {"y": {"field": "t", "type": "quantitative"}}},
        {"data": {"name": "mod"}, "transform": [{"filter": "datum.p == 'b'"}], "mark": {"type": "line", "color": "#ff7f0e", "strokeWidth": 1.8, "clip": true},
         "encoding": {"y": {"field": "t", "type": "quantitative"}, "strokeDash": {"field": "k", "type": "nominal", "scale": {"domain": ["s","d"], "range": [[1,0],[5.5,2.4]]}, "legend": null}, "opacity": {"field": "k", "type": "nominal", "scale": {"domain": ["s","d"], "range": [1,0.7]}, "legend": null}}},
        {"data": {"values": [{}]}, "mark": {"type": "text", "align": "left", "baseline": "middle", "fontSize": 11, "color": "black"}, "encoding": {"x": {"datum": -31.5}, "y": {"datum": 106}, "text": {"value": "(b)"}}}
      ]
    },
    {
      "width": 382, "height": 178,
      "encoding": {"x": {"field": "x", "type": "quantitative", "scale": {"domain": [-75, 75], "nice": false, "zero": false}, "axis": {"values": [-60,-40,-20,0,20,40,60], "tickCount": 20, "labels": false, "title": null}}},
      "layer": [
        {"data": {"name": "obs"}, "transform": [{"filter": "datum.p == 'c'"}], "mark": {"type": "area", "color": "black", "opacity": 0.1, "clip": true},
         "encoding": {"y": {"field": "lo", "type": "quantitative", "scale": {"domain": [-6.6, 127.8], "nice": false, "zero": false}, "axis": {"values": [0,20,40,60,80,100,120], "tickCount": 20, "title": "Band 6 Tb [K]"}}, "y2": {"field": "hi"}}},
        {"data": {"name": "obs"}, "transform": [{"filter": "datum.p == 'c'"}], "mark": {"type": "area", "color": "black", "opacity": 0.2, "clip": true}, "encoding": {"y": {"field": "lo2", "type": "quantitative"}, "y2": {"field": "hi2"}}},
        {"data": {"name": "obs"}, "transform": [{"filter": "datum.p == 'c'"}], "mark": {"type": "line", "color": "black", "strokeWidth": 2.4, "clip": true}, "encoding": {"y": {"field": "t", "type": "quantitative"}}},
        {"data": {"name": "mod"}, "transform": [{"filter": "datum.p == 'c'"}], "mark": {"type": "line", "color": "#ff7f0e", "strokeWidth": 1.8, "clip": true},
         "encoding": {"y": {"field": "t", "type": "quantitative"}, "strokeDash": {"field": "k", "type": "nominal", "scale": {"domain": ["s","d"], "range": [[1,0],[5.5,2.4]]}, "legend": null}, "opacity": {"field": "k", "type": "nominal", "scale": {"domain": ["s","d"], "range": [1,0.7]}, "legend": null}}},
        {"data": {"values": [{}]}, "mark": {"type": "text", "align": "left", "baseline": "middle", "fontSize": 11, "color": "black"}, "encoding": {"x": {"datum": -67.5}, "y": {"datum": 117.4}, "text": {"value": "(c)"}}},
        {"data": {"name": "beam"}, "transform": [{"filter": "datum.p == 'c'"}], "mark": {"type": "rule", "color": "black", "strokeWidth": 1.6}, "encoding": {"x": {"field": "x1", "type": "quantitative"}, "x2": {"field": "x2"}, "y": {"field": "y", "type": "quantitative"}}},
        {"data": {"name": "beam"}, "transform": [{"filter": "datum.p == 'c'"}], "mark": {"type": "tick", "orient": "vertical", "color": "black", "size": 7, "thickness": 1.5}, "encoding": {"x": {"field": "x1", "type": "quantitative"}, "y": {"field": "y", "type": "quantitative"}}},
        {"data": {"name": "beam"}, "transform": [{"filter": "datum.p == 'c'"}], "mark": {"type": "tick", "orient": "vertical", "color": "black", "size": 7, "thickness": 1.5}, "encoding": {"x": {"field": "x2", "type": "quantitative"}, "y": {"field": "y", "type": "quantitative"}}}
      ]
    },
    {
      "width": 179, "height": 178,
      "encoding": {"x": {"field": "x", "type": "quantitative", "scale": {"domain": [-35, 35], "nice": false, "zero": false}, "axis": {"values": [-20,0,20], "tickCount": 20, "labels": false, "title": null}}},
      "layer": [
        {"data": {"name": "obs"}, "transform": [{"filter": "datum.p == 'd'"}], "mark": {"type": "area", "color": "black", "opacity": 0.1, "clip": true},
         "encoding": {"y": {"field": "lo", "type": "quantitative", "scale": {"domain": [-6.6, 127.8], "nice": false, "zero": false}, "axis": {"values": [0,20,40,60,80,100,120], "tickCount": 20, "labels": false, "title": null}}, "y2": {"field": "hi"}}},
        {"data": {"name": "obs"}, "transform": [{"filter": "datum.p == 'd'"}], "mark": {"type": "area", "color": "black", "opacity": 0.2, "clip": true}, "encoding": {"y": {"field": "lo2", "type": "quantitative"}, "y2": {"field": "hi2"}}},
        {"data": {"name": "obs"}, "transform": [{"filter": "datum.p == 'd'"}], "mark": {"type": "line", "color": "black", "strokeWidth": 2.4, "clip": true}, "encoding": {"y": {"field": "t", "type": "quantitative"}}},
        {"data": {"name": "mod"}, "transform": [{"filter": "datum.p == 'd'"}], "mark": {"type": "line", "color": "#ff7f0e", "strokeWidth": 1.8, "clip": true},
         "encoding": {"y": {"field": "t", "type": "quantitative"}, "strokeDash": {"field": "k", "type": "nominal", "scale": {"domain": ["s","d"], "range": [[1,0],[5.5,2.4]]}, "legend": null}, "opacity": {"field": "k", "type": "nominal", "scale": {"domain": ["s","d"], "range": [1,0.7]}, "legend": null}}},
        {"data": {"values": [{}]}, "mark": {"type": "text", "align": "left", "baseline": "middle", "fontSize": 11, "color": "black"}, "encoding": {"x": {"datum": -31.1}, "y": {"datum": 118}, "text": {"value": "(d)"}}}
      ]
    },
    {
      "width": 382, "height": 177,
      "encoding": {"x": {"field": "x", "type": "quantitative", "scale": {"domain": [-75, 75], "nice": false, "zero": false}, "axis": {"values": [-60,-40,-20,0,20,40,60], "tickCount": 20, "title": "Location along Major Axis [au]"}}},
      "layer": [
        {"data": {"name": "obs"}, "transform": [{"filter": "datum.p == 'e'"}], "mark": {"type": "area", "color": "black", "opacity": 0.1, "clip": true},
         "encoding": {"y": {"field": "lo", "type": "quantitative", "scale": {"domain": [-7.5, 175.5], "nice": false, "zero": false}, "axis": {"values": [0,50,100,150], "tickCount": 20, "title": "Band 3 Tb [K]"}}, "y2": {"field": "hi"}}},
        {"data": {"name": "obs"}, "transform": [{"filter": "datum.p == 'e'"}], "mark": {"type": "area", "color": "black", "opacity": 0.2, "clip": true}, "encoding": {"y": {"field": "lo2", "type": "quantitative"}, "y2": {"field": "hi2"}}},
        {"data": {"name": "obs"}, "transform": [{"filter": "datum.p == 'e'"}], "mark": {"type": "line", "color": "black", "strokeWidth": 2.4, "clip": true}, "encoding": {"y": {"field": "t", "type": "quantitative"}}},
        {"data": {"name": "mod"}, "transform": [{"filter": "datum.p == 'e'"}], "mark": {"type": "line", "color": "#ff7f0e", "strokeWidth": 1.8, "clip": true},
         "encoding": {"y": {"field": "t", "type": "quantitative"}, "strokeDash": {"field": "k", "type": "nominal", "scale": {"domain": ["s","d"], "range": [[1,0],[5.5,2.4]]}, "legend": null}, "opacity": {"field": "k", "type": "nominal", "scale": {"domain": ["s","d"], "range": [1,0.7]}, "legend": null}}},
        {"data": {"values": [{}]}, "mark": {"type": "text", "align": "left", "baseline": "middle", "fontSize": 11, "color": "black"}, "encoding": {"x": {"datum": -67.5}, "y": {"datum": 160.3}, "text": {"value": "(e)"}}},
        {"data": {"name": "beam"}, "transform": [{"filter": "datum.p == 'e'"}], "mark": {"type": "rule", "color": "black", "strokeWidth": 1.6}, "encoding": {"x": {"field": "x1", "type": "quantitative"}, "x2": {"field": "x2"}, "y": {"field": "y", "type": "quantitative"}}},
        {"data": {"name": "beam"}, "transform": [{"filter": "datum.p == 'e'"}], "mark": {"type": "tick", "orient": "vertical", "color": "black", "size": 7, "thickness": 1.5}, "encoding": {"x": {"field": "x1", "type": "quantitative"}, "y": {"field": "y", "type": "quantitative"}}},
        {"data": {"name": "beam"}, "transform": [{"filter": "datum.p == 'e'"}], "mark": {"type": "tick", "orient": "vertical", "color": "black", "size": 7, "thickness": 1.5}, "encoding": {"x": {"field": "x2", "type": "quantitative"}, "y": {"field": "y", "type": "quantitative"}}}
      ]
    },
    {
      "width": 179, "height": 177,
      "encoding": {"x": {"field": "x", "type": "quantitative", "scale": {"domain": [-35, 35], "nice": false, "zero": false}, "axis": {"values": [-20,0,20], "tickCount": 20, "title": "Location along Minor Axis [au]"}}},
      "layer": [
        {"data": {"name": "obs"}, "transform": [{"filter": "datum.p == 'f'"}], "mark": {"type": "area", "color": "black", "opacity": 0.1, "clip": true},
         "encoding": {"y": {"field": "lo", "type": "quantitative", "scale": {"domain": [-7.5, 175.5], "nice": false, "zero": false}, "axis": {"values": [0,50,100,150], "tickCount": 20, "labels": false, "title": null}}, "y2": {"field": "hi"}}},
        {"data": {"name": "obs"}, "transform": [{"filter": "datum.p == 'f'"}], "mark": {"type": "area", "color": "black", "opacity": 0.2, "clip": true}, "encoding": {"y": {"field": "lo2", "type": "quantitative"}, "y2": {"field": "hi2"}}},
        {"data": {"name": "obs"}, "transform": [{"filter": "datum.p == 'f'"}], "mark": {"type": "line", "color": "black", "strokeWidth": 2.4, "clip": true}, "encoding": {"y": {"field": "t", "type": "quantitative"}}},
        {"data": {"name": "mod"}, "transform": [{"filter": "datum.p == 'f'"}], "mark": {"type": "line", "color": "#ff7f0e", "strokeWidth": 1.8, "clip": true},
         "encoding": {"y": {"field": "t", "type": "quantitative"}, "strokeDash": {"field": "k", "type": "nominal", "scale": {"domain": ["s","d"], "range": [[1,0],[5.5,2.4]]}, "legend": null}, "opacity": {"field": "k", "type": "nominal", "scale": {"domain": ["s","d"], "range": [1,0.7]}, "legend": null}}},
        {"data": {"values": [{}]}, "mark": {"type": "text", "align": "left", "baseline": "middle", "fontSize": 11, "color": "black"}, "encoding": {"x": {"datum": -31.1}, "y": {"datum": 160.3}, "text": {"value": "(f)"}}}
      ]
    }
  ]
}
